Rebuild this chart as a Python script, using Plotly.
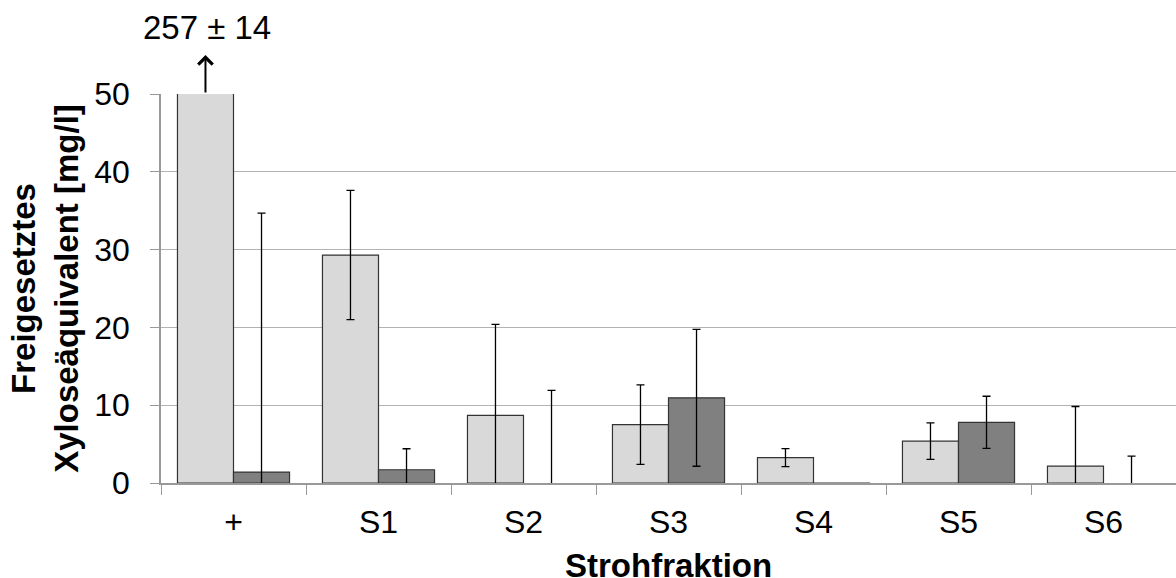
import plotly.graph_objects as go

categories = ["+", "S1", "S2", "S3", "S4", "S5", "S6"]
series_a = [257.0, 29.3, 8.7, 7.5, 3.26, 5.38, 2.18]
error_a = [14.0, 8.3, 11.7, 5.1, 1.15, 2.35, 7.65]
series_b = [1.4, 1.7, 0.0, 10.95, -0.1, 7.8, 0.0]
error_b = [33.3, 2.7, 11.9, 8.8, 0.0, 3.35, 3.45]
y_ticks = [0, 10, 20, 30, 40, 50]
off_scale_label = "257 ± 14"
x_title = "Strohfraktion"

FONT = "Liberation Sans, Arial, Helvetica, sans-serif"
bargap = 0.227
bar_w = (1 - bargap) / 2
outline_b = [0 if v == 0 else 1.2 for v in series_b]

fig = go.Figure()
fig.add_trace(go.Bar(
    x=categories, y=series_a,
    marker=dict(color="#d9d9d9", line=dict(color="#333333", width=1.2)),
    error_y=dict(type="data", array=error_a, visible=True, color="#000000", thickness=1.3, width=4),
    showlegend=False,
))
fig.add_trace(go.Bar(
    x=categories, y=series_b,
    marker=dict(color="#808080", line=dict(color="#333333", width=outline_b)),
    error_y=dict(type="data", array=error_b, visible=True, color="#000000", thickness=1.3, width=4),
    showlegend=False,
))

# arrow + label for the off-scale bar (positioned relative to the y-axis domain)
x_first = -bar_w / 2
fig.add_annotation(
    x=x_first, y=1.1, xref="x", yref="y domain", text="", showarrow=True,
    ax=0, ay=39, arrowhead=4, arrowsize=1.4, arrowwidth=2, arrowcolor="#000000",
)
fig.add_annotation(
    x=x_first, y=1.17, xref="x", yref="y domain", text=off_scale_label, showarrow=False,
    xanchor="center", yanchor="middle",
    font=dict(family=FONT, size=33, color="#000000"), xshift=2,
)
# x-axis title as annotation for exact vertical placement
fig.add_annotation(
    x=0.5, y=-0.213, xref="paper", yref="paper", text="<b>" + x_title + "</b>", showarrow=False,
    xanchor="center", yanchor="middle",
    font=dict(family=FONT, size=33, color="#000000"),
)

fig.update_layout(
    width=1176, height=578,
    margin=dict(l=161, r=0, t=94, b=95, autoexpand=False),
    paper_bgcolor="white", plot_bgcolor="white",
    barmode="group", bargap=bargap, bargroupgap=0,
    font=dict(family=FONT, color="#000000"),
)
fig.update_xaxes(
    type="category", range=[-0.5, len(categories) - 0.5], automargin=False,
    tickson="boundaries", ticks="outside", ticklen=10, tickcolor="#999999", tickwidth=1,
    showline=True, linecolor="#999999", linewidth=1.5,
    showgrid=False,
    tickfont=dict(family=FONT, size=32, color="#000000"),
    ticklabelstandoff=10,
)
fig.update_yaxes(
    range=[0, 50], tickvals=y_ticks, automargin=True,
    ticks="outside", ticklen=9, tickcolor="#999999", tickwidth=1,
    showline=True, linecolor="#999999", linewidth=1.5,
    showgrid=True, gridcolor="#b3b3b3", gridwidth=1.2,
    zeroline=False,
    tickfont=dict(family=FONT, size=32, color="#000000"),
    ticklabelstandoff=14,
    title=dict(text="<b>Freigesetztes<br>Xyloseäquivalent [mg/l]</b>", font=dict(family=FONT, size=33, color="#000000"), standoff=6),
)

fig.write_html("out.html")
